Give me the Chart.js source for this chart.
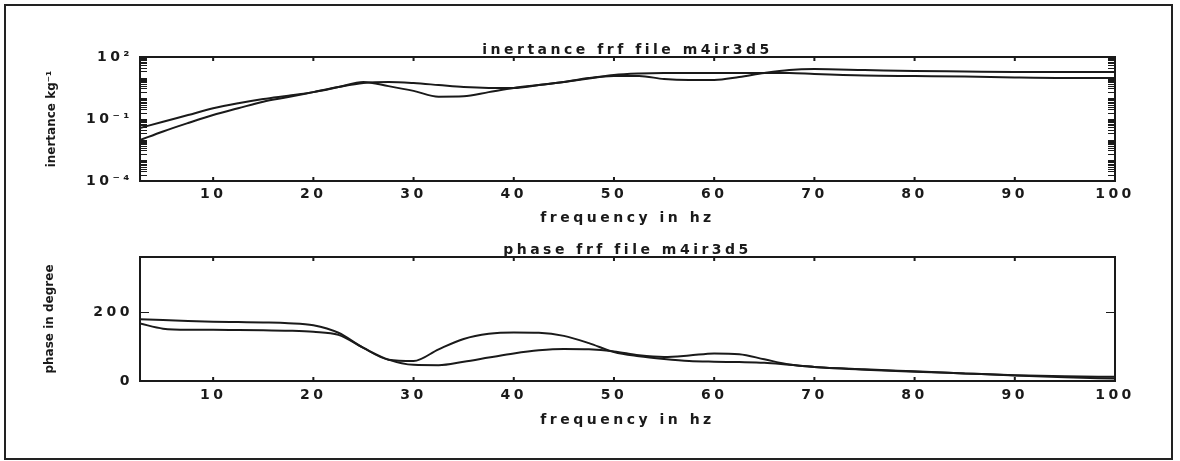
<!DOCTYPE html>
<html><head><meta charset="utf-8">
<script src="https://cdn.jsdelivr.net/npm/chart.js@4.4.1/dist/chart.umd.min.js"></script>
<style>
html,body{margin:0;padding:0;background:#fff;}
#wrap{position:relative;width:1180px;height:461px;overflow:hidden;background:#fff;}
canvas{position:absolute;left:0;}
#c1{top:0;}
#c2{top:230px;}
#border{position:absolute;left:4px;top:4px;width:1165px;height:452px;border:2px solid #222;}
</style></head><body>
<div id="wrap">
<canvas id="c1" width="1180" height="230"></canvas>
<canvas id="c2" width="1180" height="231"></canvas>
<div id="border"></div>
</div>
<script>
// ---- data ----
const freq = [2.7, 5, 7.5, 10, 12.5, 15, 17.5, 20, 22.5, 25, 27.5, 30, 32.5, 35, 37.5, 40, 42.5, 45, 47.5, 50, 52.5, 55, 57.5, 60, 62.5, 65, 67.5, 70, 75, 80, 85, 90, 95, 100];

const inertanceA = [0.037, 0.074, 0.156, 0.33, 0.58, 0.93, 1.35, 2.0, 3.5, 6.2, 3.9, 2.3, 1.2, 1.25, 2.0, 3.2, 4.4, 6.2, 9.6, 12, 12, 8.6, 7.7, 7.7, 10.8, 16.8, 23.5, 26, 23.5, 21, 20, 19, 19, 19];
const inertanceB = [0.0096, 0.025, 0.064, 0.156, 0.33, 0.69, 1.15, 2.0, 3.5, 5.5, 6.2, 5.5, 4.4, 3.5, 3.2, 3.2, 4.4, 6.2, 9.1, 13.5, 15.9, 16.8, 16.8, 16.8, 16.8, 16.8, 16.8, 15, 12.7, 12, 11.4, 10.2, 9.6, 9.6];

const phaseA = [179, 177, 174, 172, 171, 170, 168, 162, 140, 96, 62, 58, 92, 122, 137, 141, 140, 131, 110, 84, 72, 64, 58, 56, 55, 53, 47, 41, 33, 27, 22, 17, 14, 12];
const phaseB = [167, 152, 149, 149, 148, 147, 146, 143, 134, 96, 62, 47, 46, 56, 68, 80, 89, 93, 92, 86, 75, 70, 74, 80, 78, 63, 48, 41, 34, 28, 22, 16, 11, 7];

const xTickValues = [10, 20, 30, 40, 50, 60, 70, 80, 90, 100];
const inertanceTickValues = [1e-4, 1e-1, 1e2];
const inertanceTickLabels = ['10⁻⁴', '10⁻¹', '10²'];
const phaseTickValues = [0, 200];
const phaseTickLabels = ['0', '200'];

const titles = {
  top: 'inertance frf file m4ir3d5',
  bottom: 'phase frf file m4ir3d5',
  x: 'frequency in hz',
  yTop: 'inertance kg⁻¹',
  yBottom: 'phase in degree'
};

// ---- helpers ----
const INK = '#1a1a1a';
const FAMILY = '"DejaVu Sans", sans-serif';
const pts = (xs, ys) => xs.map((x, i) => ({x: x, y: ys[i]}));
const logMarks = [];
for (let k = -4; k <= 1; k++) for (let m = 1; m <= 9; m++) logMarks.push(m * Math.pow(10, k));
logMarks.push(100);

const framePlugin = {
  id: 'frame',
  beforeDraw(chart) {
    chart.ctx.letterSpacing = '3.5px';
    const y = chart.scales.y;
    if (y && !y._patchedTitle) {
      const orig = y.drawTitle;
      y.drawTitle = function () {
        const c = this.ctx; const o = c.letterSpacing;
        c.letterSpacing = '0px'; orig.call(this); c.letterSpacing = o;
      };
      y._patchedTitle = true;
    }
  },
  afterDraw(chart, args, opts) {
    const ctx = chart.ctx;
    const {left, right, top, bottom} = chart.chartArea;
    const x = chart.scales.x, y = chart.scales.y;
    ctx.save();
    ctx.letterSpacing = '0px';
    ctx.strokeStyle = INK;
    ctx.lineWidth = 2;
    ctx.strokeRect(left, top, right - left, bottom - top);
    ctx.lineWidth = 2;
    ctx.beginPath();
    for (const v of opts.xMarks) {
      const px = x.getPixelForValue(v);
      ctx.moveTo(px, bottom); ctx.lineTo(px, bottom - 4);
      ctx.moveTo(px, top); ctx.lineTo(px, top + 4);
    }
    ctx.stroke();
    ctx.lineWidth = 1;
    ctx.beginPath();
    for (const v of opts.yMarks) {
      const py = Math.round(y.getPixelForValue(v)) + 0.5;
      ctx.moveTo(left, py); ctx.lineTo(left + opts.yLen, py);
      ctx.moveTo(right, py); ctx.lineTo(right - opts.yLen, py);
    }
    ctx.stroke();
    ctx.restore();
  }
};

function lineSet(data) {
  return {data: data, borderColor: INK, borderWidth: 2, pointRadius: 0, fill: false,
          cubicInterpolationMode: 'monotone'};
}

function makeChart(id, cfg) {
  const font = {family: FAMILY, size: 14, weight: 'bold'};
  return new Chart(document.getElementById(id), {
    type: 'line',
    data: {datasets: [lineSet(pts(freq, cfg.a)), lineSet(pts(freq, cfg.b))]},
    options: {
      responsive: false,
      animation: false,
      events: [],
      layout: {padding: {top: cfg.padTop, right: 65, bottom: cfg.padBottom, left: 0}},
      plugins: {
        legend: {display: false},
        tooltip: {enabled: false},
        title: {display: true, text: cfg.title, color: INK, fullSize: false,
                font: {family: FAMILY, size: 14, weight: 'bold', lineHeight: 1},
                padding: {top: 0, bottom: 0}},
        frame: {xMarks: xTickValues, yMarks: cfg.yMarks, yLen: cfg.yLen}
      },
      scales: {
        x: {
          type: 'linear', min: 2.7, max: 100,
          afterBuildTicks: s => { s.ticks = xTickValues.map(v => ({value: v})); },
          afterFit: s => { s.height = 49; },
          grid: {display: false, drawTicks: false},
          border: {display: false},
          ticks: {padding: cfg.xTickPad, color: INK, autoSkip: false, maxRotation: 0,
                  font: font, callback: v => String(v)},
          title: {display: true, text: titles.x, color: INK,
                  font: {family: FAMILY, size: 14, weight: 'bold', lineHeight: 1},
                  padding: {top: 0, bottom: cfg.xTitlePad}}
        },
        y: {
          type: cfg.yType, min: cfg.yMin, max: cfg.yMax,
          afterBuildTicks: s => { s.ticks = cfg.yTicks.map(v => ({value: v})); },
          afterFit: s => { s.width = 140; },
          grid: {display: false, drawTicks: false},
          border: {display: false},
          ticks: {padding: 7, color: INK, autoSkip: false,
                  font: font, callback: (v, i) => cfg.yLabels[i]},
          title: {display: true, text: cfg.yTitle, color: INK,
                  font: {family: FAMILY, size: 12, weight: 'bold', lineHeight: 1.2},
                  padding: {top: cfg.yTitlePad, bottom: 0}}
        }
      }
    },
    plugins: [framePlugin]
  });
}

makeChart('c1', {
  a: inertanceA, b: inertanceB, title: titles.top, yTitle: titles.yTop,
  padTop: 43, padBottom: 0, xTickPad: 5, xTitlePad: 5, yTitlePad: 45,
  yType: 'logarithmic', yMin: 1e-4, yMax: 1e2,
  yTicks: inertanceTickValues, yLabels: inertanceTickLabels,
  yMarks: logMarks, yLen: 7
});

makeChart('c2', {
  a: phaseA, b: phaseB, title: titles.bottom, yTitle: titles.yBottom,
  padTop: 13, padBottom: 31, xTickPad: 6, xTitlePad: 3, yTitlePad: 43,
  yType: 'linear', yMin: 0, yMax: 360,
  yTicks: phaseTickValues, yLabels: phaseTickLabels,
  yMarks: [200], yLen: 9
});
</script>
</body></html>
